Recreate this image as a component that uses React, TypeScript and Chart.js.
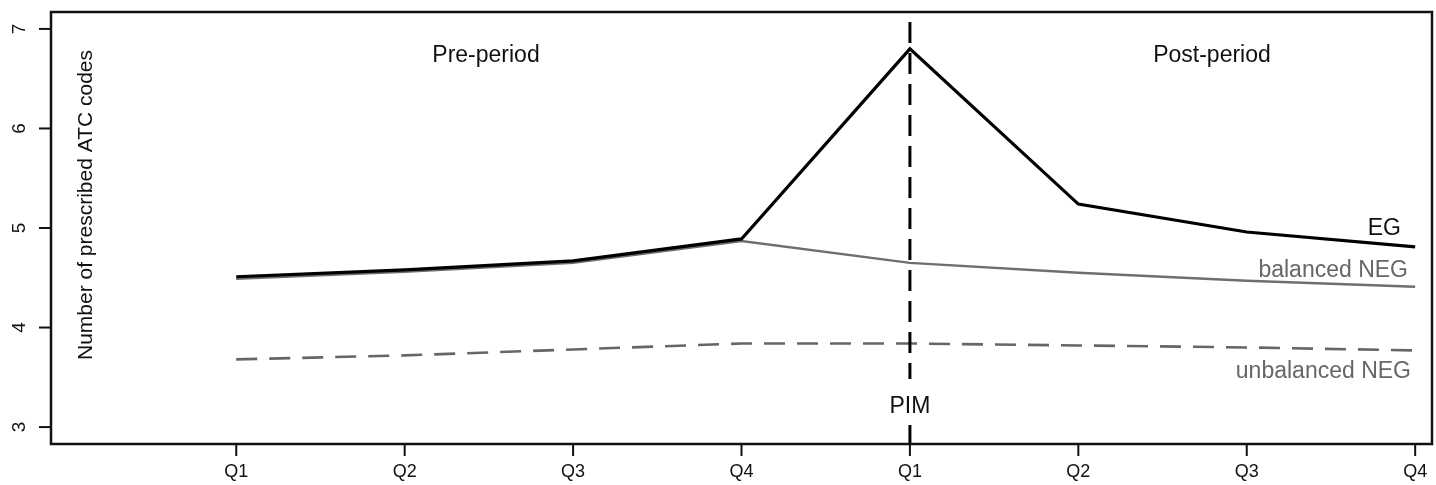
import React, { useEffect, useRef } from "react";
import { Chart, registerables } from "chart.js";

Chart.register(...registerables);

const quarterLabels = ["Q1", "Q2", "Q3", "Q4", "Q1", "Q2", "Q3", "Q4"];
const egValues = [4.51, 4.58, 4.67, 4.89, 6.8, 5.24, 4.96, 4.81];
const balancedNegValues = [4.49, 4.56, 4.65, 4.87, 4.65, 4.55, 4.47, 4.41];
const unbalancedNegValues = [3.68, 3.72, 3.78, 3.84, 3.84, 3.82, 3.8, 3.77];
const yTicks = [3, 4, 5, 6, 7];
const pimIndex = 4;

const FONT = "'Liberation Sans', Arial, Helvetica, sans-serif";

const toPoints = (vals: number[]) => vals.map((v, i) => ({ x: i, y: v }));

const decorPlugin = {
  id: "decor",
  afterDatasetsDraw(chart: any) {
    const ctx = chart.ctx;
    const xs = chart.scales.x;
    const px = xs.getPixelForValue(pimIndex);
    ctx.save();
    ctx.strokeStyle = "#000";
    ctx.lineWidth = 3;
    ctx.setLineDash([21, 10]);
    ctx.beginPath();
    ctx.moveTo(px, chart.chartArea.top + 10);
    ctx.lineTo(px, chart.chartArea.bottom);
    ctx.stroke();
    ctx.restore();
  },
  afterDraw(chart: any) {
    const ctx = chart.ctx;
    const { left, right, top, bottom } = chart.chartArea;
    const xs = chart.scales.x;
    const ys = chart.scales.y;
    ctx.save();
    // box
    ctx.strokeStyle = "#111";
    ctx.lineWidth = 2.5;
    ctx.setLineDash([]);
    ctx.strokeRect(left, top, right - left, bottom - top);

    // y ticks
    ctx.lineWidth = 2;
    ctx.fillStyle = "#111";
    ctx.font = `19px ${FONT}`;
    yTicks.forEach((t) => {
      const y = ys.getPixelForValue(t);
      ctx.beginPath();
      ctx.moveTo(left - 12, y);
      ctx.lineTo(left, y);
      ctx.stroke();
      ctx.save();
      ctx.translate(20, y);
      ctx.rotate(-Math.PI / 2);
      ctx.textAlign = "center";
      ctx.textBaseline = "middle";
      ctx.fillText(String(t), 0, 0);
      ctx.restore();
    });

    // x ticks
    ctx.font = `18px ${FONT}`;
    quarterLabels.forEach((lab, i) => {
      const x = xs.getPixelForValue(i);
      ctx.beginPath();
      ctx.moveTo(x, bottom);
      ctx.lineTo(x, bottom + 12);
      ctx.stroke();
      ctx.textAlign = "center";
      ctx.textBaseline = "middle";
      ctx.fillText(lab, x, 472);
    });

    // axis title (inside plot)
    ctx.save();
    ctx.font = `21px ${FONT}`;
    ctx.translate(86, 205);
    ctx.rotate(-Math.PI / 2);
    ctx.textAlign = "center";
    ctx.textBaseline = "middle";
    ctx.fillText("Number of prescribed ATC codes", 0, 0);
    ctx.restore();

    // period labels
    ctx.font = `23px ${FONT}`;
    ctx.textBaseline = "alphabetic";
    ctx.textAlign = "center";
    ctx.fillStyle = "#111";
    ctx.fillText("Pre-period", 486, 62);
    ctx.fillText("Post-period", 1212, 62);

    // PIM label with white background
    const px = xs.getPixelForValue(pimIndex);
    ctx.fillStyle = "#fff";
    ctx.fillRect(px - 22, 379, 44, 43);
    ctx.fillStyle = "#111";
    ctx.fillText("PIM", px, 413);

    // series labels
    ctx.textAlign = "right";
    ctx.fillStyle = "#111";
    ctx.fillText("EG", 1401, 235);
    ctx.fillStyle = "#666";
    ctx.fillText("balanced NEG", 1408, 277);
    ctx.fillText("unbalanced NEG", 1411, 378);
    ctx.restore();
  },
};

export default function App() {
  const canvasRef = useRef<HTMLCanvasElement | null>(null);

  useEffect(() => {
    document.body.style.margin = "0";
    const canvas = canvasRef.current;
    if (!canvas) return;
    const chart = new Chart(canvas, {
      type: "line",
      data: {
        datasets: [
          {
            label: "EG",
            data: toPoints(egValues),
            borderColor: "#000",
            borderWidth: 3.2,
            pointRadius: 0,
            tension: 0,
            order: 0,
          },
          {
            label: "balanced NEG",
            data: toPoints(balancedNegValues),
            borderColor: "#6e6e6e",
            borderWidth: 2.4,
            pointRadius: 0,
            tension: 0,
            order: 1,
          },
          {
            label: "unbalanced NEG",
            data: toPoints(unbalancedNegValues),
            borderColor: "#666",
            borderWidth: 2.6,
            borderDash: [21, 12],
            pointRadius: 0,
            tension: 0,
            order: 2,
          },
        ],
      },
      options: {
        responsive: false,
        animation: false,
        layout: { padding: { left: 51, right: 4, top: 12, bottom: 41 } },
        plugins: { legend: { display: false }, tooltip: { enabled: false } },
        scales: {
          x: { type: "linear", min: -1.1, max: 7.1, display: false },
          y: { type: "linear", min: 2.83, max: 7.17, display: false },
        },
      },
      plugins: [decorPlugin],
    });
    return () => chart.destroy();
  }, []);

  return (
    <div style={{ position: "absolute", left: 0, top: 0 }}>
      <canvas ref={canvasRef} width={1436} height={485} />
    </div>
  );
}
